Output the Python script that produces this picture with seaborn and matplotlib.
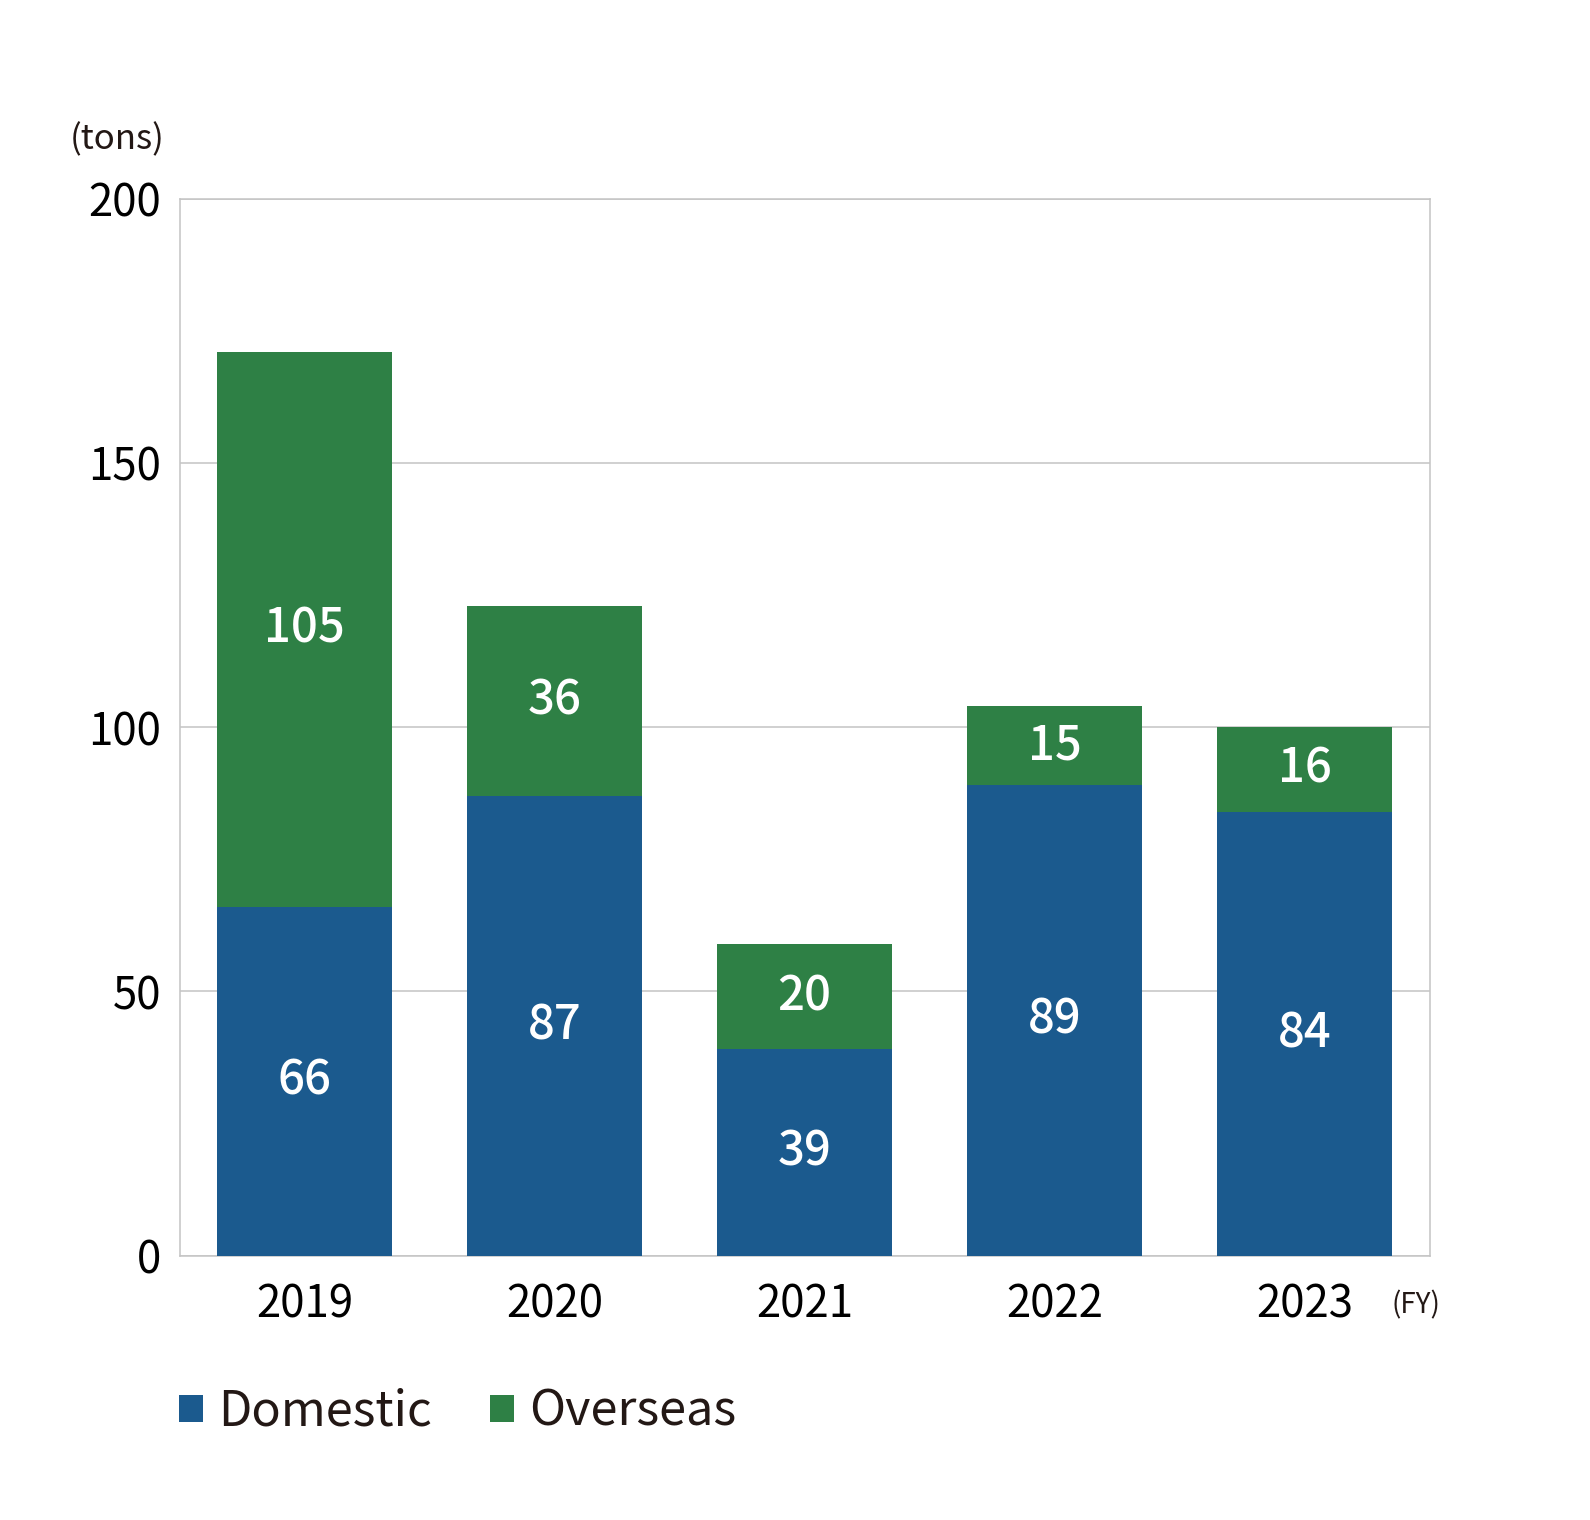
import matplotlib
matplotlib.use("Agg")
import matplotlib.pyplot as plt
import seaborn as sns
import pandas as pd
from matplotlib.patches import Patch

years = ["2019", "2020", "2021", "2022", "2023"]
domestic = [66, 87, 39, 89, 84]
overseas = [105, 36, 20, 15, 16]
series_names = ["Domestic", "Overseas"]
yticks = [0, 50, 100, 150, 200]

BLUE = "#1B5A8E"
GREEN = "#2E8045"
TEXT = "#231815"
GRID = "#c4c4c4"

sns.set_theme(style="white")
plt.rcParams["font.family"] = ["Noto Sans CJK JP", "DejaVu Sans"]

df = pd.DataFrame({"year": years, "Domestic": domestic, "Overseas": overseas})

fig = plt.figure(figsize=(15.9, 15.2), dpi=100)
ax = fig.add_axes([0.1129, 0.174, 0.8992 - 0.1129, 0.8693 - 0.174])

sns.barplot(data=df, x="year", y="Domestic", color=BLUE, width=0.7,
            saturation=1, ax=ax, zorder=3, linewidth=0, edgecolor="none")
sns.barplot(data=df, x="year", y="Overseas", color=GREEN, width=0.7,
            saturation=1, ax=ax, bottom=df["Domestic"].values, zorder=3,
            linewidth=0, edgecolor="none")

for cont in ax.containers:
    ax.bar_label(cont, label_type="center", color="white", fontsize=34,
                 fontweight="medium")

ax.set_ylim(0, 200)
ax.set_xlim(-0.5, 4.5)
ax.set_yticks(yticks)
ax.set_yticklabels([str(v) for v in yticks])
ax.yaxis.grid(True, color=GRID, linewidth=1.1, zorder=0)
ax.xaxis.grid(False)
ax.set_axisbelow(True)
for s in ax.spines.values():
    s.set_color(GRID)
    s.set_linewidth(1.1)
    s.set_visible(True)
ax.tick_params(axis="y", length=0, pad=13, labelsize=31.5, labelcolor="black")
ax.tick_params(axis="x", length=0, pad=19, labelsize=31.5, labelcolor="black")
ax.set_xlabel("")
ax.set_ylabel("")

fig.text(117 / 1590, 1 - 140 / 1520, "(tons)", ha="center", va="center",
         fontsize=25, color=TEXT)
fig.text(1416 / 1590, 1 - 1305 / 1520, "(FY)", ha="center", va="center",
         fontsize=20, color=TEXT)

handles = [Patch(facecolor=BLUE, edgecolor="none"),
           Patch(facecolor=GREEN, edgecolor="none")]
leg = fig.legend(handles, series_names, loc="center left",
                 bbox_to_anchor=(179 / 1590, 1 - 1412 / 1520), ncol=2,
                 frameon=False, fontsize=35, handlelength=0.5,
                 handleheight=0.5, handletextpad=0.3, columnspacing=1.2,
                 borderpad=0, borderaxespad=0)
for t in leg.get_texts():
    t.set_color(TEXT)

fig.savefig("out.png", dpi=100)
